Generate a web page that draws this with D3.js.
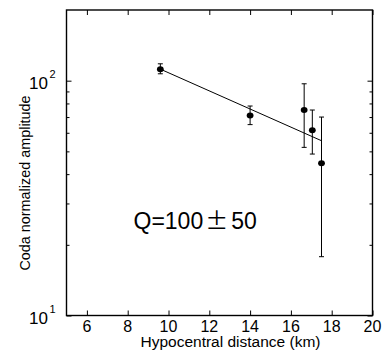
<!DOCTYPE html>
<html>
<head>
<meta charset="utf-8">
<style>
  body { margin: 0; background: #fff; }
  svg { display: block; font-family: 'Liberation Sans', Arial, sans-serif; }
  .axis .domain { display: none; }
  .axis .tick line { stroke: #000; stroke-width: 1; }
  .axis .tick text { display: none; }
  .ticklabel { fill: #000; }
  .label { fill: #000; }
</style>
</head>
<body>
<svg width="390" height="354"></svg>
<script src="https://d3js.org/d3.v7.min.js"></script>
<script>
const distance = [9.6, 14.0, 16.65, 17.05, 17.5];
const amplitude = [112, 71, 75, 61.5, 44.5];
const errLow = [107, 65, 52, 48.7, 17.8];
const errHigh = [118, 78, 97, 75, 70];

// fitted line end points
const fitDistance = [9.6, 17.5];
const fitAmplitude = [112, 55.5];

const xTicks = [6, 8, 10, 12, 14, 16, 18, 20];
const yMajor = [10, 100];
const yMinor = [20, 30, 40, 50, 60, 70, 80, 90];

const margin = { top: 10, right: 17.5, bottom: 38.5, left: 66.5 };
const width = 390, height = 354;

const svg = d3.select("svg");

const x = d3.scaleLinear()
  .domain([5, 20])
  .range([margin.left, width - margin.right]);

const y = d3.scaleLog()
  .domain([10, 200])
  .range([height - margin.bottom, margin.top]);

// inward ticks on all four sides
svg.append("g").attr("class", "axis")
  .attr("transform", `translate(0,${height - margin.bottom})`)
  .call(d3.axisBottom(x).tickValues(xTicks).tickSize(-5));
svg.append("g").attr("class", "axis")
  .attr("transform", `translate(0,${margin.top})`)
  .call(d3.axisTop(x).tickValues(xTicks).tickSize(-5));

svg.append("g").attr("class", "axis")
  .attr("transform", `translate(${margin.left},0)`)
  .call(d3.axisLeft(y).tickValues(yMajor).tickSize(-5));
svg.append("g").attr("class", "axis")
  .attr("transform", `translate(${margin.left},0)`)
  .call(d3.axisLeft(y).tickValues(yMinor).tickSize(-3));
svg.append("g").attr("class", "axis")
  .attr("transform", `translate(${width - margin.right},0)`)
  .call(d3.axisRight(y).tickValues(yMajor).tickSize(-5));
svg.append("g").attr("class", "axis")
  .attr("transform", `translate(${width - margin.right},0)`)
  .call(d3.axisRight(y).tickValues(yMinor).tickSize(-3));

// frame
svg.append("rect")
  .attr("x", margin.left)
  .attr("y", margin.top)
  .attr("width", width - margin.right - margin.left)
  .attr("height", height - margin.bottom - margin.top)
  .attr("fill", "none")
  .attr("stroke", "#000")
  .attr("stroke-width", 1.4);

// x tick labels
svg.append("g").selectAll("text")
  .data(xTicks)
  .join("text")
  .attr("class", "ticklabel")
  .style("font-size", "16px")
  .attr("x", d => x(d))
  .attr("y", height - margin.bottom + 16.5)
  .attr("text-anchor", "middle")
  .text(d => d);

// y tick labels 10^n
let yl = svg.append("g").selectAll("text")
  .data(yMajor)
  .join("text")
  .attr("class", "ticklabel")
  .style("font-size", "17px")
  .attr("x", margin.left - 11)
  .attr("y", d => y(d) + 8.5)
  .attr("text-anchor", "end");
yl.append("tspan").text("10");
yl.append("tspan")
  .style("font-size", "11px")
  .attr("dx", 1.5)
  .attr("dy", -11)
  .text(d => Math.round(Math.log10(d)));

// error bars
const bars = svg.append("g").selectAll("g")
  .data(distance.map((d, i) => i))
  .join("g")
  .attr("stroke", "#000")
  .attr("stroke-width", 1);
bars.append("line")
  .attr("x1", i => x(distance[i])).attr("x2", i => x(distance[i]))
  .attr("y1", i => y(errLow[i])).attr("y2", i => y(errHigh[i]));
bars.append("line")
  .attr("x1", i => x(distance[i]) - 2.5).attr("x2", i => x(distance[i]) + 2.5)
  .attr("y1", i => y(errLow[i])).attr("y2", i => y(errLow[i]));
bars.append("line")
  .attr("x1", i => x(distance[i]) - 2.5).attr("x2", i => x(distance[i]) + 2.5)
  .attr("y1", i => y(errHigh[i])).attr("y2", i => y(errHigh[i]));

// fit line
const line = d3.line()
  .x(i => x(fitDistance[i]))
  .y(i => y(fitAmplitude[i]));
svg.append("path")
  .attr("d", line(fitDistance.map((d, i) => i)))
  .attr("fill", "none")
  .attr("stroke", "#000")
  .attr("stroke-width", 1);

// points
svg.append("g").selectAll("ellipse")
  .data(distance.map((d, i) => i))
  .join("ellipse")
  .attr("cx", i => x(distance[i]))
  .attr("cy", i => y(amplitude[i]))
  .attr("rx", 3.4)
  .attr("ry", 3)
  .attr("fill", "#000");

// annotation
const q = svg.append("text")
  .attr("x", 133.5)
  .attr("y", 228.5)
  .style("font-size", "23px")
  .attr("fill", "#000");
q.append("tspan").text("Q=100");
q.append("tspan").attr("font-family", "'Noto Sans CJK JP'").attr("dx", 2).text("±");
q.append("tspan").attr("dx", 3).text("50");

// axis titles
svg.append("text")
  .attr("class", "label")
  .style("font-size", "15.5px")
  .attr("x", (margin.left + width - margin.right) / 2 + 11)
  .attr("y", 347)
  .attr("text-anchor", "middle")
  .text("Hypocentral distance (km)");

svg.append("text")
  .attr("class", "label")
  .style("font-size", "14.4px")
  .attr("transform", "translate(30,183) rotate(-90)")
  .attr("text-anchor", "middle")
  .text("Coda normalized amplitude");
</script>
</body>
</html>
